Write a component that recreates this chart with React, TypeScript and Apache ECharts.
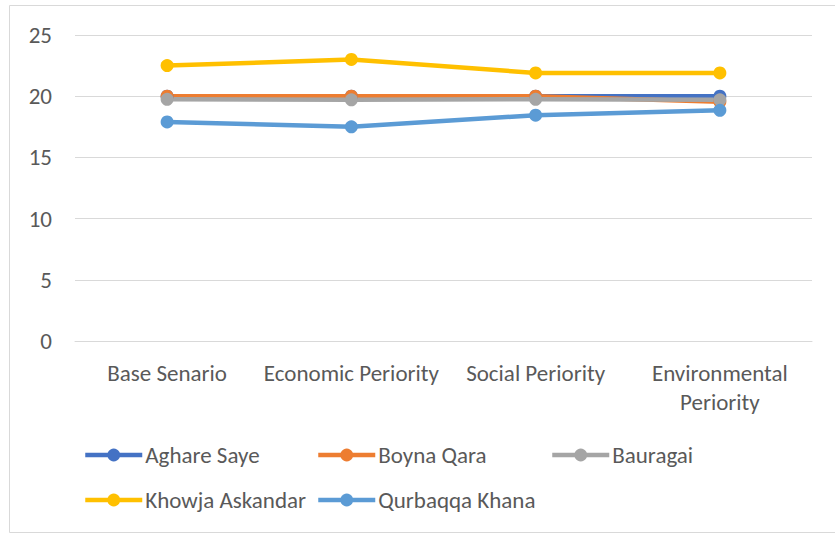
import React, { useEffect, useRef } from "react";
import * as echarts from "echarts";

const categories = ["Base Senario", "Economic Periority", "Social Periority", "Environmental Periority"];
const seriesNames = ["Aghare Saye", "Boyna Qara", "Bauragai", "Khowja Askandar", "Qurbaqqa Khana"];
const aghareSaye = [20, 20, 20, 20];
const boynaQara = [20, 20, 20, 19.55];
const bauragai = [19.75, 19.7, 19.75, 19.7];
const khowjaAskandar = [22.5, 23.0, 21.9, 21.9];
const qurbaqqaKhana = [17.9, 17.5, 18.45, 18.85];
const yTicks = { min: 0, max: 25, interval: 5 };

const colors = ["#4472C4", "#ED7D31", "#A5A5A5", "#FFC000", "#5B9BD5"];
const FONT = "Carlito, Lato, 'Open Sans', sans-serif";
const FS = 23;

// legend slot placement (column, row)
const legendSlots = [
  [83, 443],
  [316, 443],
  [550, 443],
  [83, 488],
  [316, 488],
];

export default function App() {
  const ref = useRef<HTMLDivElement>(null);
  useEffect(() => {
    if (!ref.current) return;
    const chart = echarts.init(ref.current, undefined, { renderer: "svg" });
    const values = [aghareSaye, boynaQara, bauragai, khowjaAskandar, qurbaqqaKhana];
    chart.setOption({
      animation: false,
      backgroundColor: "#ffffff",
      graphic: [
        {
          type: "rect",
          shape: { x: 9.5, y: 5.5, width: 840, height: 527 },
          style: { fill: "none", stroke: "#d9d9d9", lineWidth: 1 },
          silent: true,
        },
      ],
      grid: { left: 75, right: 23, top: 35, bottom: 193, containLabel: false },
      legend: seriesNames.map((name, i) => ({
        orient: "horizontal",
        left: legendSlots[i][0],
        top: legendSlots[i][1],
        padding: 0,
        itemWidth: 57,
        itemHeight: 16,
        itemGap: 0,
        selectedMode: false,
        lineStyle: { width: 4.5 },
        textStyle: {
          fontFamily: FONT,
          fontSize: FS,
          lineHeight: 24,
          color: "#595959",
          padding: [0, 0, 0, -2],
        },
        data: [name],
      })),
      xAxis: {
        type: "category",
        data: categories,
        boundaryGap: true,
        axisLine: { show: true, lineStyle: { color: "#d9d9d9", width: 1 } },
        axisTick: { show: false },
        axisLabel: {
          interval: 0,
          margin: 17,
          fontFamily: FONT,
          fontSize: FS,
          color: "#595959",
          lineHeight: 29,
          formatter: (v: string) => (v.length > 20 ? v.replace(" ", "\n") : v),
        },
      },
      yAxis: {
        type: "value",
        min: yTicks.min,
        max: yTicks.max,
        interval: yTicks.interval,
        axisLine: { show: false },
        axisTick: { show: false },
        splitLine: { lineStyle: { color: "#d9d9d9", width: 1 } },
        axisLabel: {
          margin: 23,
          fontFamily: FONT,
          fontSize: FS,
          color: "#595959",
        },
      },
      series: seriesNames.map((name, i) => ({
        name,
        type: "line",
        data: values[i],
        symbol: "circle",
        symbolSize: 13,
        lineStyle: { width: 4.5, color: colors[i] },
        itemStyle: { color: colors[i] },
        emphasis: { disabled: true },
      })),
    });
    return () => chart.dispose();
  }, []);
  return (
    <div
      ref={ref}
      style={{ position: "fixed", left: 0, top: 0, width: 835, height: 534 }}
    />
  );
}
